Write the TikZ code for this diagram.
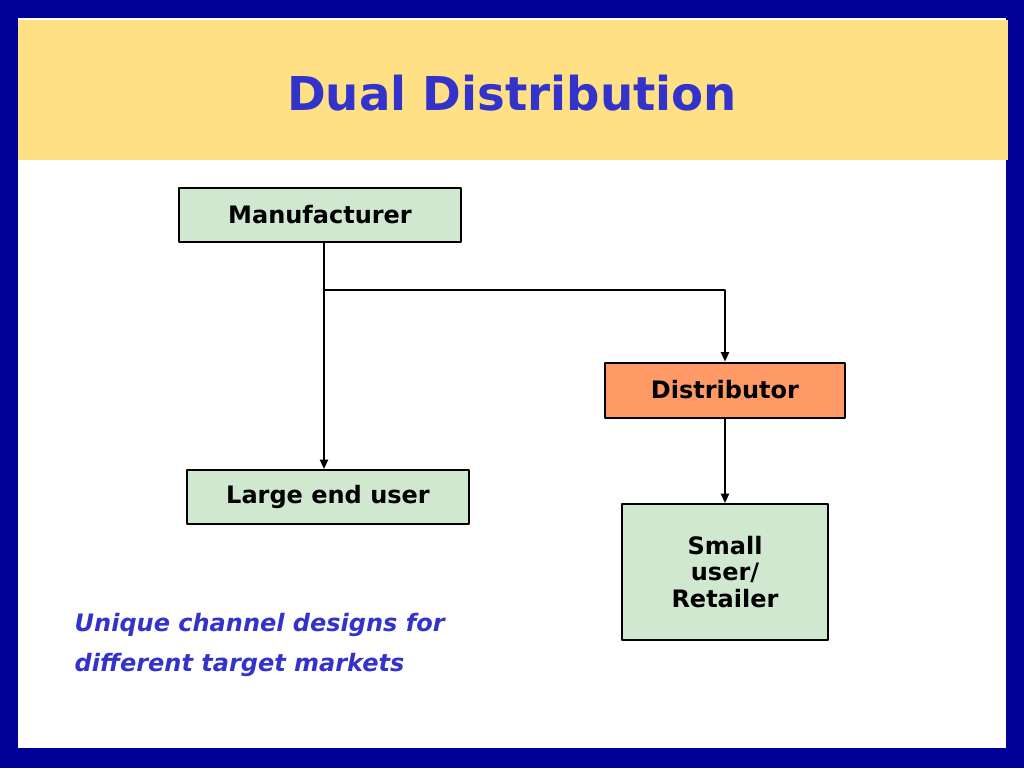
\documentclass[tikz,border=0pt]{standalone}
\usepackage{fontspec}
\setmainfont{DejaVu Sans}
\usetikzlibrary{arrows.meta}
\definecolor{frameblue}{HTML}{000099}
\definecolor{headyellow}{HTML}{FFE085}
\definecolor{titleblue}{HTML}{3333CC}
\definecolor{boxgreen}{HTML}{D0E8D0}
\definecolor{boxorange}{HTML}{FF9966}
\tikzset{
  chanbox/.style={draw=black, line width=1.5pt, fill=boxgreen, font=\bfseries\fontsize{18}{22}\selectfont, inner sep=0pt, align=center},
  flow/.style={line width=1.5pt, -{Triangle[length=7pt,width=6pt]}}
}
\begin{document}
\begin{tikzpicture}[line cap=round, line join=round, x=0.75pt, y=-0.75pt]
  \fill[frameblue] (0,0) rectangle (1024,768);
  \fill[white] (18,18) rectangle (1006,748);
  \fill[headyellow] (18,20) rectangle (1008,160);
  \node[text=titleblue, font=\bfseries\fontsize{35}{40}\selectfont] (title) at (512,93) {Dual Distribution};
  \node[chanbox, minimum width=282*0.75pt, minimum height=54*0.75pt] (manu) at (320,215) {Manufacturer};
  \node[chanbox, fill=boxorange, minimum width=240*0.75pt, minimum height=55*0.75pt] (dist) at (725,390) {Distributor};
  \node[chanbox, minimum width=282*0.75pt, minimum height=54*0.75pt] (large) at (328,497) {Large end user};
  \node[chanbox, minimum width=206*0.75pt, minimum height=136*0.75pt] (small) at (725,572) {Small\\[-2pt]user/\\[-2pt]Retailer};
  \coordinate (split) at (324,290);
  \coordinate (corner) at (725,290);
  \draw[flow] (manu.south -| split) -- (large.north -| split);
  \draw[flow] (split) -- (corner) -- (dist.north);
  \draw[flow] (dist.south) -- (small.north);
  \node[anchor=west, align=left, text=titleblue, font=\bfseries\itshape\fontsize{18}{30}\selectfont] (note) at (70,645) {Unique channel designs for\\different target markets};
\end{tikzpicture}
\end{document}
